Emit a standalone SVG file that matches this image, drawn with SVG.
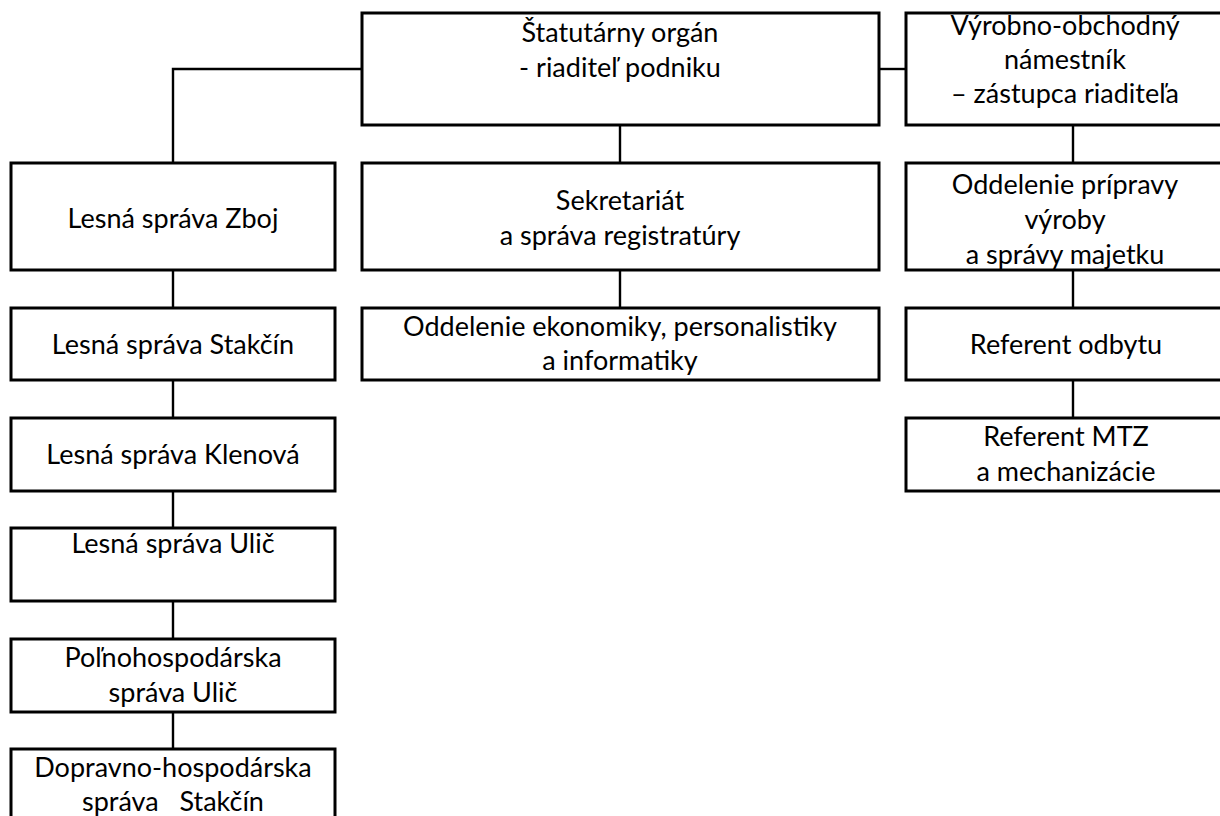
<svg xmlns="http://www.w3.org/2000/svg" width="1220" height="816" viewBox="0 0 1220 816">
<style>
.box{fill:#fff;stroke:#000;stroke-width:3}
.con{fill:none;stroke:#000;stroke-width:2.4}
text{font-family:Lato,"Open Sans","Liberation Sans",sans-serif;font-size:27px;fill:#000;text-anchor:middle;white-space:pre}
</style>
<rect width="1220" height="816" fill="#fff"/>
<g id="connectors">
<path class="con" d="M362,69 H173 V163"/>
<path class="con" d="M173,270 V308 M173,380 V418 M173,491 V528 M173,601 V639 M173,712 V749"/>
<path class="con" d="M620,125 V163 M620,270 V308"/>
<path class="con" d="M879,69 H906"/>
<path class="con" d="M1073,125 V163 M1073,270 V308 M1073,380 V418"/>
</g>
<g id="statutarny"><rect class="box" x="362" y="13" width="517" height="112"/><text x="620" y="42">Štatutárny orgán</text><text x="620" y="77">- riaditeľ podniku</text></g>
<g id="sekretariat"><rect class="box" x="362" y="163" width="517" height="107"/><text x="620" y="210">Sekretariát</text><text x="620" y="245">a správa registratúry</text></g>
<g id="ekonomika"><rect class="box" x="362" y="308" width="517" height="72"/><text x="620" y="336">Oddelenie ekonomiky, personalistiky</text><text x="620" y="370">a informatiky</text></g>
<g id="namestnik"><rect class="box" x="906" y="13" width="318" height="112"/><text x="1065" y="35">Výrobno-obchodný</text><text x="1065" y="69">námestník</text><text x="1065" y="103">– zástupca riaditeľa</text></g>
<g id="priprava"><rect class="box" x="906" y="163" width="318" height="107"/><text x="1065" y="194">Oddelenie prípravy</text><text x="1065" y="229">výroby</text><text x="1065" y="264">a správy majetku</text></g>
<g id="odbyt"><rect class="box" x="906" y="308" width="318" height="72"/><text x="1066" y="354">Referent odbytu</text></g>
<g id="mtz"><rect class="box" x="906" y="418" width="318" height="73"/><text x="1066" y="446">Referent MTZ</text><text x="1066" y="481">a mechanizácie</text></g>
<g id="zboj"><rect class="box" x="11" y="163" width="324" height="107"/><text x="173" y="228">Lesná správa Zboj</text></g>
<g id="stakcin"><rect class="box" x="11" y="308" width="324" height="72"/><text x="173" y="354">Lesná správa Stakčín</text></g>
<g id="klenova"><rect class="box" x="11" y="418" width="324" height="73"/><text x="173" y="464">Lesná správa Klenová</text></g>
<g id="ulic"><rect class="box" x="11" y="528" width="324" height="73"/><text x="173" y="553">Lesná správa Ulič</text></g>
<g id="polnohospodarska"><rect class="box" x="11" y="639" width="324" height="73"/><text x="173" y="667">Poľnohospodárska</text><text x="173" y="702">správa Ulič</text></g>
<g id="dopravno"><rect class="box" x="11" y="749" width="324" height="80"/><text x="173" y="777">Dopravno-hospodárska</text><text x="173" y="811">správa   Stakčín</text></g>
</svg>
